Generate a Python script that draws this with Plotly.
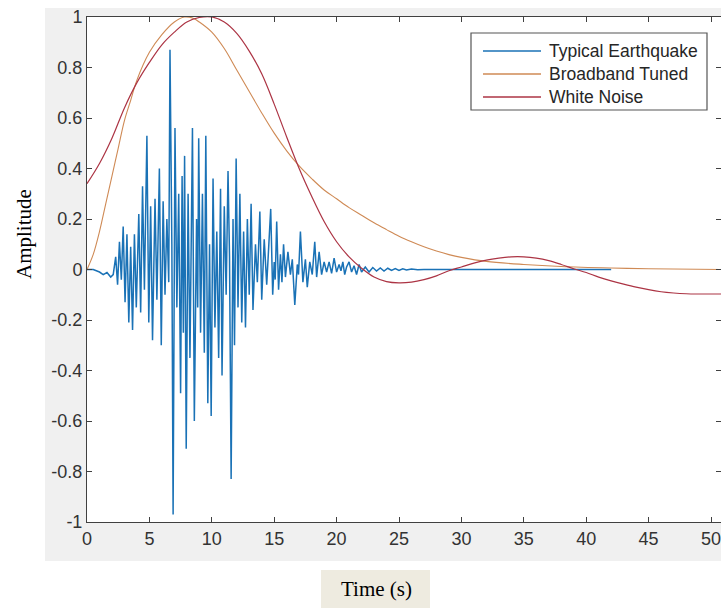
import plotly.graph_objects as go

# ---------------- data ----------------
eq_time = [0, 0.5, 1.0, 1.3, 1.6, 1.9, 2.1,
           2.3, 2.45, 2.6, 2.75, 2.9, 3.05, 3.2, 3.35, 3.5, 3.65, 3.8, 3.95,
           4.15, 4.3, 4.45, 4.6, 4.8, 4.95, 5.1, 5.25, 5.45, 5.6, 5.8, 5.95,
           6.1, 6.25, 6.4, 6.55, 6.65, 6.8, 6.9, 7.05, 7.2, 7.35, 7.5, 7.62,
           7.72, 7.82, 7.95, 8.1, 8.25, 8.45, 8.6, 8.78, 8.87, 8.95, 9.1, 9.25,
           9.4, 9.52, 9.68, 9.82, 9.95, 10.1, 10.25, 10.4, 10.55, 10.7, 10.82,
           11.0, 11.15, 11.3, 11.42, 11.55, 11.7, 11.82, 11.95, 12.1, 12.25,
           12.4, 12.55, 12.7, 12.85, 13.0, 13.15, 13.3, 13.5, 13.65, 13.85,
           14.0, 14.2, 14.4, 14.72, 14.88, 15.0, 15.08, 15.2, 15.35, 15.5,
           15.62, 15.75, 15.9, 16.1, 16.3, 16.45, 16.65, 16.85, 16.95, 17.1,
           17.3, 17.5, 17.65, 17.85, 18.05, 18.25, 18.4, 18.6, 18.8, 19.0,
           19.2, 19.4, 19.6, 19.8, 20.0, 20.2, 20.35, 20.5, 20.65, 20.8, 21.0,
           21.2, 21.4, 21.6, 21.8, 22.0, 22.3, 22.6, 22.9, 23.2, 23.5, 23.8,
           24.1, 24.4, 24.7, 25.0, 25.3, 25.6, 26.0, 26.5, 27.0, 42.0]
eq_amp = [0, 0.0, -0.01, -0.02, -0.012, -0.03, -0.02,
          0.05, -0.06, 0.11, -0.04, 0.17, -0.13, 0.14, -0.21, 0.09, -0.24, 0.14, -0.15,
          0.22, -0.17, 0.33, -0.08, 0.53, -0.21, 0.25, -0.28, 0.28, -0.12, 0.40, -0.30,
          0.27, -0.10, 0.20, -0.05, 0.87, 0.10, -0.97, 0.56, -0.15, 0.30, -0.49, 0.37,
          -0.25, 0.45, -0.71, 0.30, -0.35, 0.56, -0.60, 0.20, -0.15, 0.52, -0.25, 0.30,
          -0.33, 0.53, -0.53, 0.10, -0.58, 0.36, -0.23, 0.15, -0.35, 0.32, -0.42,
          0.25, -0.10, 0.39, 0.05, -0.83, 0.20, -0.30, 0.44, -0.15, 0.30,
          -0.21, 0.15, -0.23, 0.20, -0.10, 0.26, -0.16, 0.10, -0.05, 0.23,
          -0.12, 0.12, -0.06, 0.24, -0.10, 0.03, -0.04, 0.19, -0.08, 0.06,
          -0.05, 0.10, -0.03, 0.07, -0.02, 0.04, -0.14, 0.02, -0.02, 0.15,
          -0.05, 0.04, -0.07, 0.03, -0.02, 0.11, -0.03, 0.07, -0.02, 0.03,
          -0.01, 0.03, -0.015, 0.045, -0.01, 0.02, -0.005, 0.03, -0.02, 0.01, 0.03,
          -0.01, 0.015, -0.02, 0.02, -0.01, 0.01, -0.01, 0.008, -0.006, 0.006, -0.006,
          0.005, -0.004, 0.004, -0.004, 0.003, -0.002, 0.002, -0.001, 0.0, 0.0]

bb_time = [0, 0.5, 1, 1.5, 2, 2.5, 3, 3.5, 4, 5, 6, 7, 7.8, 8.5, 9,
           10, 11, 12, 13, 14, 15, 16, 17, 18, 19, 20, 21, 22, 23, 24, 25,
           26, 27, 28, 29, 30, 32, 35, 38, 42, 45, 50.8]
bb_amp = [0, 0.06, 0.15, 0.26, 0.37, 0.48, 0.59, 0.67, 0.75, 0.86, 0.93, 0.98, 1.0, 0.995, 0.98,
          0.94, 0.875, 0.79, 0.705, 0.62, 0.54, 0.47, 0.41, 0.36, 0.315, 0.28, 0.245, 0.215, 0.185, 0.158, 0.132,
          0.11, 0.09, 0.073, 0.059, 0.048, 0.032, 0.02, 0.012, 0.006, 0.003, 0.0]

wn_time = [0, 1, 2, 3, 4, 5, 6, 7, 8, 9, 10, 11, 12, 13, 14, 15, 16, 17, 18, 19,
           20, 21, 22, 23, 24, 25, 26, 27, 28, 29, 30, 31, 32, 33, 34, 35, 36, 37, 38, 39,
           40, 41, 42, 43, 44, 45, 46, 47, 48, 49, 50.8]
wn_amp = [0.34, 0.42, 0.52, 0.64, 0.74, 0.82, 0.89, 0.94, 0.98, 0.998,
          1.0, 0.98, 0.935, 0.865, 0.775, 0.655, 0.525, 0.4, 0.29, 0.19,
          0.11, 0.05, 0.005, -0.03, -0.048, -0.053, -0.05, -0.04, -0.025, -0.005,
          0.01, 0.025, 0.037, 0.045, 0.05, 0.05, 0.045, 0.035, 0.02, 0.003,
          -0.012, -0.03, -0.045, -0.058, -0.07, -0.08, -0.088, -0.093, -0.096, -0.097, -0.097]

series_names = ["Typical Earthquake", "Broadband Tuned", "White Noise"]
series_colors = ["#1a72b6", "#cf8a55", "#ac3444"]

x_ticks = [0, 5, 10, 15, 20, 25, 30, 35, 40, 45, 50]
y_ticks = [1, 0.8, 0.6, 0.4, 0.2, 0, -0.2, -0.4, -0.6, -0.8, -1]
y_tick_text = ["1", "0.8", "0.6", "0.4", "0.2", "0", "-0.2", "-0.4", "-0.6", "-0.8", "-1"]

assert len(eq_time) == len(eq_amp)
assert len(bb_time) == len(bb_amp)
assert len(wn_time) == len(wn_amp)

# ---------------- layout geometry ----------------
W, H = 721, 608
L, R, T, B = 87, 0, 17, 86
PW, PH = W - L - R, H - T - B


def px(x):
    return (x - L) / PW


def py(y):
    return (H - B - y) / PH


fig = go.Figure()
fig.add_trace(go.Scatter(x=eq_time, y=eq_amp, mode="lines", name=series_names[0],
                         line=dict(color=series_colors[0], width=1.5)))
fig.add_trace(go.Scatter(x=bb_time, y=bb_amp, mode="lines", name=series_names[1],
                         line=dict(color=series_colors[1], width=1.1, shape="spline")))
fig.add_trace(go.Scatter(x=wn_time, y=wn_amp, mode="lines", name=series_names[2],
                         line=dict(color=series_colors[2], width=1.2, shape="spline")))

shapes = [
    # grey figure background
    dict(type="rect", xref="paper", yref="paper", x0=px(45), x1=px(721), y0=py(561), y1=py(8),
         fillcolor="#f0f0f0", line=dict(width=0), layer="below"),
    # white axes area
    dict(type="rect", xref="paper", yref="paper", x0=0, x1=1, y0=0, y1=1,
         fillcolor="white", line=dict(width=0), layer="below"),
    # x label box
    dict(type="rect", xref="paper", yref="paper", x0=px(321), x1=px(430), y0=py(608), y1=py(570),
         fillcolor="#eeebe0", line=dict(width=0), layer="below"),
    # legend box
    dict(type="rect", xref="paper", yref="paper", x0=px(471), x1=px(707), y0=py(110), y1=py(33),
         fillcolor="white", line=dict(color="#555555", width=1.2), layer="above"),
]
legend_rows = [51, 74, 97]
annotations = []
for name, col, ry in zip(series_names, series_colors, legend_rows):
    shapes.append(dict(type="line", xref="paper", yref="paper", x0=px(483), x1=px(541),
                       y0=py(ry), y1=py(ry), line=dict(color=col, width=1.3), layer="above"))
    annotations.append(dict(text=name, xref="paper", yref="paper", x=px(547), y=py(ry),
                            xanchor="left", yanchor="middle", showarrow=False,
                            font=dict(family="Liberation Sans, Arial", size=17.5, color="#262626")))

annotations.append(dict(text="Time (s)", xref="paper", yref="paper", x=px(376), y=py(589),
                        xanchor="center", yanchor="middle", showarrow=False,
                        font=dict(family="Liberation Serif, Times New Roman", size=21, color="black")))
annotations.append(dict(text="Amplitude", xref="paper", yref="paper", x=px(24), y=py(234),
                        xanchor="center", yanchor="middle", showarrow=False, textangle=-90,
                        font=dict(family="Liberation Serif, Times New Roman", size=21, color="black")))

axis_common = dict(showgrid=False, zeroline=False, showline=True, linecolor="#404040", linewidth=1,
                   mirror="ticks", ticks="inside", ticklen=5, tickcolor="#404040", tickwidth=1,
                   tickfont=dict(family="Liberation Sans, Arial", size=18, color="#333333"))

fig.update_layout(
    width=W, height=H,
    margin=dict(l=L, r=R, t=T, b=B, pad=0),
    paper_bgcolor="white", plot_bgcolor="rgba(0,0,0,0)",
    showlegend=False,
    shapes=shapes, annotations=annotations,
    xaxis=dict(range=[0, PW / 12.48], tickvals=x_ticks, ticktext=[str(v) for v in x_ticks],
               ticklabeloverflow="allow", **axis_common),
    yaxis=dict(range=[-1, 1], tickvals=y_ticks, ticktext=y_tick_text, **axis_common),
)

fig.write_html("out.html")
